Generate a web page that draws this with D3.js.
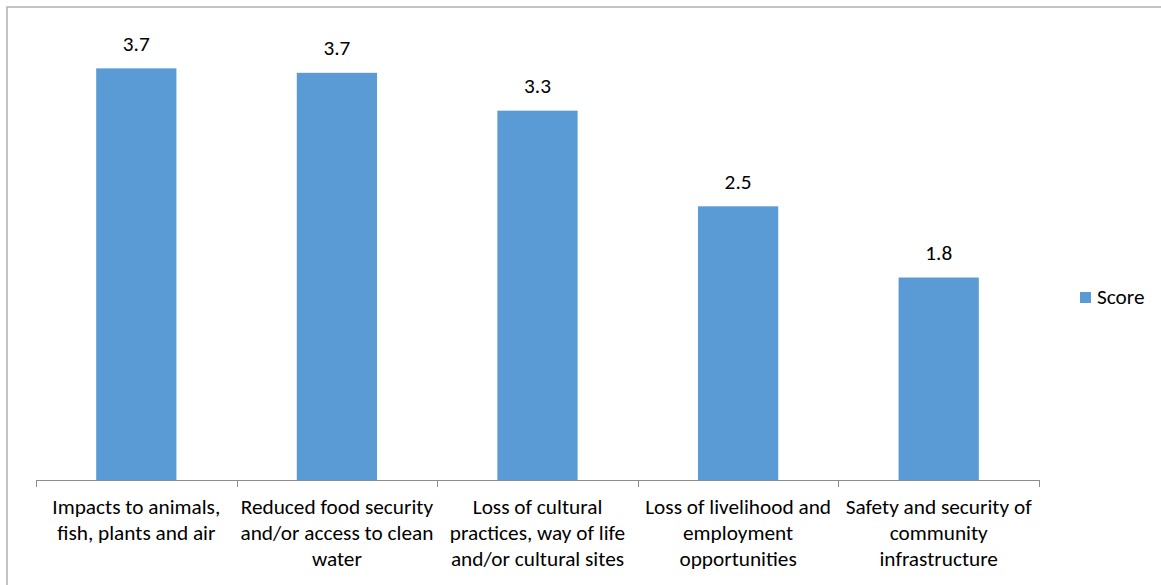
<!DOCTYPE html>
<html>
<head>
<meta charset="utf-8">
<script src="https://cdn.jsdelivr.net/npm/d3@7"></script>
<style>
  html, body { margin: 0; padding: 0; background: #ffffff; }
  svg { display: block; }
</style>
</head>
<body>
<svg id="chart" width="1161" height="585"></svg>
<script>
// Category labels, one entry per line of the wrapped label
const categories = [
  ["Impacts to animals,", "fish, plants and air"],
  ["Reduced food security", "and/or access to clean", "water"],
  ["Loss of cultural", "practices, way of life", "and/or cultural sites"],
  ["Loss of livelihood and", "employment", "opportunities"],
  ["Safety and security of", "community", "infrastructure"]
];
const scores = [3.70, 3.66, 3.32, 2.46, 1.82];
const seriesName = "Score";
const valueFormat = ".1f";
const valueDomain = [0, 4];

const W = 1161, H = 585;
const plot = { left: 36, right: 1039, top: 35, bottom: 480 };
const barColor = "#5b9bd5";
const fontFamily = "Carlito, Calibri, Lato, sans-serif";

const svg = d3.select("#chart");

// Size the font so that label widths follow the original Calibri metrics
const probe = svg.append("text").attr("font-family", fontFamily).attr("font-size", 21)
  .text("Impacts to animals,");
const probeW = probe.node().getComputedTextLength();
probe.remove();
const fontSize = Math.min(21.5, 21 * 168 / probeW);

// Chart frame
svg.append("rect")
  .attr("x", 7).attr("y", 7)
  .attr("width", W + 10).attr("height", H + 10)
  .attr("fill", "none").attr("stroke", "#b0b0b0").attr("stroke-width", 1.5);

const idx = d3.range(categories.length);
const x = d3.scaleBand().domain(idx).range([plot.left, plot.right]).padding(0);
const y = d3.scaleLinear().domain(valueDomain).range([plot.bottom, plot.top]);
const barW = x.bandwidth() * 0.4;

// Bars
svg.append("g").selectAll("rect")
  .data(scores)
  .join("rect")
  .attr("x", (d, i) => x(i) + (x.bandwidth() - barW) / 2)
  .attr("y", d => y(d))
  .attr("width", barW)
  .attr("height", d => y(0) - y(d))
  .attr("fill", barColor);

// Value labels
svg.append("g").selectAll("text")
  .data(scores)
  .join("text")
  .attr("x", (d, i) => x(i) + x.bandwidth() / 2)
  .attr("y", d => y(d) - 17.5)
  .attr("text-anchor", "middle")
  .attr("font-family", fontFamily)
  .attr("font-size", fontSize)
  .attr("fill", "#000")
  .text(d => d3.format(valueFormat)(d));

// Category axis: baseline with tick marks between categories
const axisG = svg.append("g").attr("transform", `translate(0,${plot.bottom})`);
axisG.append("line")
  .attr("x1", plot.left).attr("x2", plot.right)
  .attr("y1", 0.5).attr("y2", 0.5)
  .attr("stroke", "#8c8c8c").attr("stroke-width", 1);
const tickXs = idx.map(i => x(i)).concat([plot.right]);
axisG.selectAll("line.tick")
  .data(tickXs)
  .join("line")
  .attr("class", "tick")
  .attr("x1", d => Math.round(d) + 0.5).attr("x2", d => Math.round(d) + 0.5)
  .attr("y1", 0).attr("y2", 7)
  .attr("stroke", "#8c8c8c").attr("stroke-width", 1);

const labelG = axisG.selectAll("text")
  .data(categories)
  .join("text")
  .attr("text-anchor", "middle")
  .attr("font-family", fontFamily)
  .attr("font-size", fontSize)
  .attr("fill", "#000");
labelG.selectAll("tspan")
  .data((d, i) => d.map((line, k) => ({ line, k, i })))
  .join("tspan")
  .attr("x", d => x(d.i) + x.bandwidth() / 2)
  .attr("y", d => 34 + d.k * 26)
  .text(d => d.line);

// Legend
const legend = svg.append("g").attr("transform", "translate(1080,292)");
legend.append("rect").attr("width", 11).attr("height", 11).attr("fill", barColor);
legend.append("text")
  .attr("x", 17).attr("y", 12)
  .attr("font-family", fontFamily)
  .attr("font-size", fontSize)
  .attr("fill", "#000")
  .text(seriesName);
</script>
</body>
</html>
